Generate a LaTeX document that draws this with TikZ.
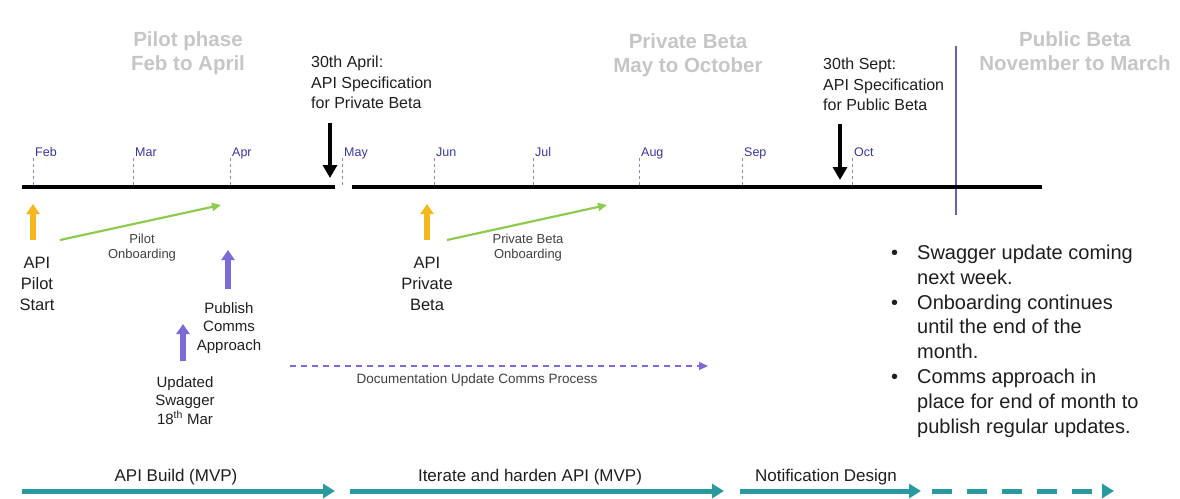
\documentclass[tikz,border=0pt]{standalone}
\usepackage{fontspec}
\setmainfont{Liberation Sans}
\usetikzlibrary{arrows.meta}

\definecolor{phasegray}{HTML}{C6C6C6}
\definecolor{monthblue}{HTML}{3B3598}
\definecolor{tickblue}{HTML}{8A86C0}
\definecolor{divider}{HTML}{6A62B0}
\definecolor{markorange}{HTML}{F4B71E}
\definecolor{onboardgreen}{HTML}{8DCB4F}
\definecolor{commspurple}{HTML}{7C6BD6}
\definecolor{buildteal}{HTML}{2B9A9E}
\definecolor{inktext}{HTML}{1E1E1E}

\newcommand\fsz[2]{\fontsize{#1}{#2}\selectfont}

\begin{document}
\begin{tikzpicture}[x=1pt,y=-1pt,
  phase/.style={text=phasegray, font=\fsz{20.5}{24}\bfseries, align=center, inner sep=0, anchor=north},
  month/.style={text=monthblue, font=\fsz{12.5}{14}, inner sep=0, anchor=base west},
  tickline/.style={tickblue, line width=1pt, dash pattern=on 3pt off 3pt},
  timeline/.style={black, line width=4.5pt},
  deadline/.style={black, line width=4pt, -{Triangle[length=13pt,width=14pt]}},
  milestone/.style={text=inktext, font=\fsz{16}{20.5}, align=left, inner sep=0, anchor=north west},
  startmark/.style={markorange, line width=5.5pt, -{Triangle[length=10pt,width=13pt]}},
  commsmark/.style={commspurple, line width=5.5pt, -{Triangle[length=10pt,width=13pt]}},
  onboard/.style={onboardgreen, line width=2.2pt, -{Triangle[length=9pt,width=8pt]}},
  biglabel/.style={text=inktext, font=\fsz{16.5}{21}, align=center, inner sep=0, anchor=north},
  midlabel/.style={text=inktext, font=\fsz{15}{18.5}, align=center, inner sep=0, anchor=north},
  smalllabel/.style={text=inktext!85, font=\fsz{13}{15}, align=center, inner sep=0, anchor=north},
  workstream/.style={buildteal, line width=5pt, -{Triangle[length=12pt,width=14pt]}},
  streamlabel/.style={text=inktext, font=\fsz{17}{20}, inner sep=0, anchor=base},
]
\useasboundingbox (0,0) rectangle (1180,498);

% phase headings
\node[phase] (pilot)   at (188,31) {Pilot phase\\Feb to April};
\node[phase] (private) at (688,33) {Private Beta\\May to October};
\node[phase] (public)  at (1075,31) {Public Beta\\November to March};

% divider between private and public beta
\coordinate (divtop) at (956,46);
\coordinate (divbot) at (956,215);
\draw[divider, line width=1.4pt] (divtop) -- (divbot);

% main timeline in two parts
\coordinate (tla) at (22,187);
\coordinate (tlb) at (335,187);
\coordinate (tlc) at (352,187);
\coordinate (tld) at (1042,187);
\draw[timeline] (tla) -- (tlb);
\draw[timeline] (tlc) -- (tld);

% month ticks
\foreach \m/\x in {Feb/33, Mar/133, Apr/230, May/342, Jun/434, Jul/533, Aug/639, Sep/742, Oct/852}{
  \coordinate (tick\m) at (\x,158);
  \draw[tickline] (tick\m) -- (\x,186);
  \node[month] (lab\m) at (\x+2,156) {\m};
}

% specification deadlines
\node[milestone] (specapr) at (311,56) {30th April:\\API Specification\\for Private Beta};
\node[milestone] (specsep) at (823,58) {30th Sept:\\API Specification\\for Public Beta};
\coordinate (aprtop) at (330,123);
\coordinate (aprtip) at (330,178);
\coordinate (septop) at (840,124);
\coordinate (septip) at (840,180);
\draw[deadline] (aprtop) -- (aprtip);
\draw[deadline] (septop) -- (septip);

% start markers
\node[biglabel] (pilotstart) at (37,257) {API\\Pilot\\Start};
\node[biglabel] (betastart) at (427,257) {API\\Private\\Beta};
\draw[startmark] (33,240) -- (33,204);
\draw[startmark] (427,240) -- (427,204);

% onboarding periods
\coordinate (pob1) at (60,240);
\coordinate (pob2) at (221,205);
\coordinate (bob1) at (447,240);
\coordinate (bob2) at (607,205);
\draw[onboard] (pob1) -- (pob2);
\draw[onboard] (bob1) -- (bob2);
\node[smalllabel] (pobl) at (142,234) {Pilot\\Onboarding};
\node[smalllabel] (bobl) at (528,234) {Private Beta\\Onboarding};

% comms events
\node[midlabel] (publish) at (229,302) {Publish\\Comms\\Approach};
\node[midlabel] (swagger) at (185,376) {Updated\\Swagger\\18\textsuperscript{th} Mar};
\draw[commsmark] (228,289) -- (228,250);
\draw[commsmark] (183,361) -- (183,324);

% documentation process
\coordinate (doc1) at (290,366);
\coordinate (doc2) at (708,366);
\draw[commspurple, line width=1.1pt, dash pattern=on 6pt off 5pt, -{Triangle[length=9pt,width=8pt]}] (doc1) -- (doc2);
\node[smalllabel, font=\fsz{13.5}{15}] (docl) at (477,374) {Documentation Update Comms Process};

% status notes
\node[inner sep=0, anchor=north west, text=inktext, font=\fsz{20}{24.8}] (notes) at (891,242) {%
  \begin{tabular}{@{}p{26pt}@{}l@{}}
  \textbullet & Swagger update coming\\
              & next week.\\
  \textbullet & Onboarding continues\\
              & until the end of the\\
              & month.\\
  \textbullet & Comms approach in\\
              & place for end of month to\\
              & publish regular updates.
  \end{tabular}};

% workstreams
\coordinate (ws1a) at (22,491);
\coordinate (ws1b) at (335,491);
\coordinate (ws2a) at (350,491);
\coordinate (ws2b) at (724,491);
\coordinate (ws3a) at (740,491);
\coordinate (ws3b) at (921,491);
\coordinate (ws4a) at (932,491);
\coordinate (ws4b) at (1114,491);
\draw[workstream] (ws1a) -- (ws1b);
\draw[workstream] (ws2a) -- (ws2b);
\draw[workstream] (ws3a) -- (ws3b);
\draw[workstream, dash pattern=on 20pt off 15pt] (ws4a) -- (ws4b);
\node[streamlabel] (build)   at (176,481) {API Build (MVP)};
\node[streamlabel] (iterate) at (530,481) {Iterate and harden API (MVP)};
\node[streamlabel] (notify)  at (826,481) {Notification Design};
\end{tikzpicture}
\end{document}
